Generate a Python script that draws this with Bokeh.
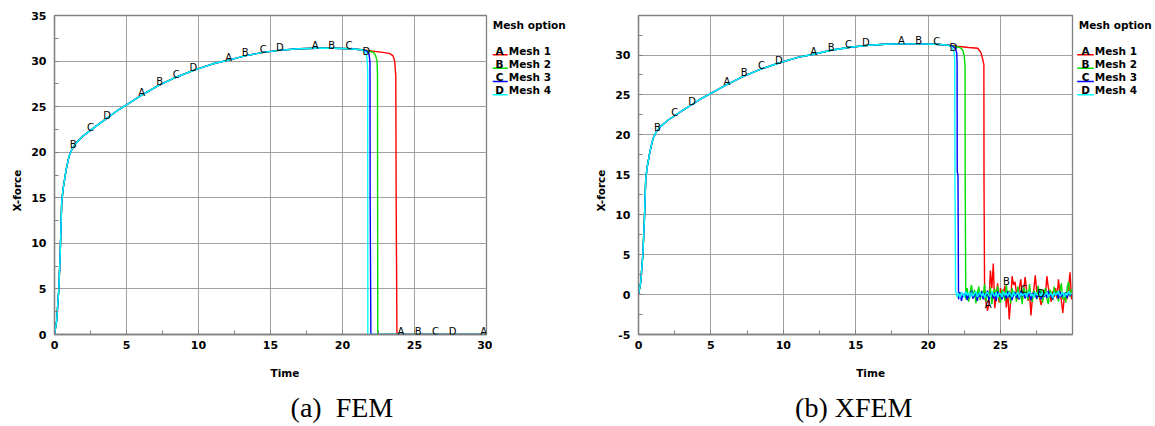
import numpy as np
from bokeh.plotting import figure
from bokeh.models import LabelSet, ColumnDataSource, SingleIntervalTicker, Range1d, PrintfTickFormatter
from bokeh.core.properties import value
from bokeh.layouts import row, column
from bokeh.embed import file_html
from bokeh.resources import INLINE

# ---------------- data ----------------
MESH_NAMES = ["Mesh 1", "Mesh 2", "Mesh 3", "Mesh 4"]
MESH_LETTERS = ["A", "B", "C", "D"]
MESH_COLORS = ["#ff0000", "#00dd00", "#0000ff", "#00ffff"]
LEGEND_TITLE = "Mesh option"
X_LABEL = "Time"
Y_LABEL = "X-force"
CAPTIONS = ["(a)\u00a0 FEM", "(b) XFEM"]

# common loading branch (all meshes)
RISE_T = [0, 0.15, 0.3, 0.4, 0.5, 0.6, 0.8, 1.0, 1.2, 1.5, 2.0, 2.5, 3.0, 3.7, 4.3, 5.0,
          6.0, 7.2, 8.4, 9.7, 11.0, 12.1, 13.3, 14.5, 15.7, 17.0, 18.2, 19.4, 20.5, 21.3]
RISE_F = [0, 1.5, 5.0, 9.0, 14.5, 16.0, 18.0, 19.5, 20.3, 21.0, 21.8, 22.4, 23.0, 23.8, 24.5, 25.2,
          26.2, 27.3, 28.2, 29.0, 29.7, 30.1, 30.6, 30.95, 31.2, 31.35, 31.4, 31.4, 31.35, 31.25]

# FEM: failure branches
FEM_M1_T = [22.0, 22.8, 23.25, 23.5, 23.62, 23.7, 23.73, 23.78, 30.0]
FEM_M1_F = [31.1, 30.95, 30.85, 30.6, 30.0, 28.4, 14.0, 0.0, 0.0]
FEM_M2_T = [21.8, 22.15, 22.3, 22.4, 22.43, 22.45, 30.0]
FEM_M2_F = [31.1, 30.95, 30.6, 30.0, 28.5, 0.0, 0.0]
FEM_M3_T = [21.7, 21.85, 21.91, 21.92, 21.97, 30.0]
FEM_M3_F = [31.1, 30.7, 29.8, 15.2, 0.0, 0.0]
FEM_M4_T = [21.6, 21.7, 21.75, 21.76, 30.0]
FEM_M4_F = [31.0, 30.4, 29.0, 0.0, 0.0]

# XFEM: failure branches before the oscillating part
XFEM_M1_T = [22.0, 22.8, 23.43, 23.65, 23.75, 23.85, 23.86]
XFEM_M1_F = [31.1, 30.95, 30.85, 30.3, 29.6, 28.8, 14.0]
XFEM_M2_T = [21.8, 22.2, 22.4, 22.5, 22.55, 22.56]
XFEM_M2_F = [31.1, 30.95, 30.6, 29.8, 28.5, 14.4]
XFEM_M3_T = [21.7, 21.9, 21.98, 22.0, 22.01, 22.06]
XFEM_M3_F = [31.1, 30.8, 30.2, 29.0, 15.4, 15.0]
XFEM_M4_T = [21.6, 21.78, 21.84, 21.85]
XFEM_M4_F = [31.05, 30.5, 29.5, 15.0]

# XFEM: post-failure oscillation, sampled every 0.1 from the start time
NOISE_STEP = 0.1
XFEM_M1_NOISE_T0 = 23.9
XFEM_M1_NOISE = [-0.3, -1.0, -2.0, -1.2, 3.0, 0.8, 3.9, -1.7, -0.2, 1.4,
                 -1.0, 0.8, -0.4, 0.3, 1.1, -1.6, 0.4, -3.1, -0.8, 2.3,
                 1.2, 1.6, 0.2, -0.6, 0.9, 1.9, -0.3, 0.6, 2.2, 0.5,
                 -0.8, 0.4, -2.6, -0.5, 0.7, 2.4, 0.3, 1.0, -0.4, -1.3,
                 -0.6, 0.6, -0.2, 2.3, 0.9, 0.1, -0.9, 0.4, -0.3, 0.8,
                 -0.5, 1.9, 0.2, -0.7, -2.3, -0.4, 0.3, -0.6, 0.9, 2.8,
                 -0.6]
XFEM_M2_NOISE_T0 = 22.6
XFEM_M2_NOISE = [-0.6, 0.8, -0.9, 0.3, 1.2, -0.4, 0.6, -1.1, 0.2, 1.0,
                 -0.7, 0.5, -0.2, 1.3, -0.9, 0.4, -0.5, 0.9, -1.2, 0.3,
                 0.7, -0.6, 1.1, -0.3, -1.0, 0.6, 0.2, -0.8, 1.2, -0.4,
                 0.5, -1.1, 0.8, -0.2, 0.4, -0.9, 1.0, -0.5, 0.3, -1.2,
                 0.9, -0.1, 0.6, -0.7, 1.3, -0.3, -0.9, 0.5, 0.1, -0.6,
                 1.1, -0.4, 0.7, -1.0, 0.2, 0.8, -0.5, -1.2, 0.6, 0.3,
                 -0.7, 1.0, -0.2, 0.5, -0.9, 0.4, 1.4, -0.6, 0.2, -1.0,
                 0.9, 1.6, -0.3, 0.7]
XFEM_M3_NOISE_T0 = 22.1
XFEM_M3_NOISE = [-0.6, 0.3, -0.8, 0.1, -0.3, 0.4, -0.7, 0.0, -0.4, 0.5,
                 -0.5, -0.1, 0.3, -0.8, 0.2, -0.3, 0.4, -0.6, 0.1, -0.2,
                 0.5, -0.7, 0.0, 0.3, -0.5, 0.2, -0.8, 0.4, -0.2, 0.1,
                 -0.6, 0.3, -0.1, -0.5, 0.4, -0.3, 0.2, -0.7, 0.1, 0.3,
                 -0.4, 0.0, -0.6, 0.5, -0.2, 0.2, -0.5, 0.1, -0.3, 0.4,
                 -0.7, 0.2, -0.1, 0.3, -0.5, 0.0, 0.4, -0.6, 0.2, -0.3,
                 0.1, -0.4, 0.5, -0.2, 0.0, -0.6, 0.3, -0.1, 0.2, -0.5,
                 0.4, -0.3, 0.1, -0.2, 0.3, -0.4, 0.2, 0.0, -0.1]
XFEM_M4_NOISE_T0 = 21.9
XFEM_M4_NOISE = [0.4, -0.3, 0.2, -0.4, 0.3, 0.0, -0.3, 0.4, -0.1, 0.2,
                 -0.4, 0.3, -0.2, 0.1, 0.4, -0.3, 0.0, 0.3, -0.2, 0.2,
                 -0.4, 0.1, 0.3, -0.1, -0.3, 0.4, 0.0, -0.2, 0.3, -0.4,
                 0.2, 0.1, -0.3, 0.4, -0.1, 0.2, -0.2, 0.3, 0.0, -0.3,
                 0.4, -0.2, 0.1, 0.3, -0.4, 0.2, -0.1, 0.0, 0.3, -0.3,
                 0.2, 0.4, -0.2, 0.1, -0.4, 0.3, 0.0, -0.1, 0.2, -0.3,
                 0.4, -0.2, 0.1, 0.3, -0.3, 0.0, 0.2, -0.4, 0.3, -0.1,
                 0.1, 0.4, -0.2, 0.0, 0.3, -0.3, 0.2, -0.1, 0.4, 0.0,
                 0.2]

# curve identification letters (time positions)
FEM_MARK_A = [6.05, 12.1, 18.1, 24.05, 29.8]
FEM_MARK_B = [1.3, 7.3, 13.25, 19.25, 25.25]
FEM_MARK_C = [2.5, 8.45, 14.5, 20.45, 26.45]
FEM_MARK_D = [3.65, 9.65, 15.65, 21.65, 27.65]
XFEM_MARK_A = [6.1, 12.1, 18.15, 24.15]
XFEM_MARK_B = [1.3, 7.3, 13.3, 19.35, 25.4]
XFEM_MARK_C = [2.5, 8.5, 14.5, 20.6, 26.6]
XFEM_MARK_D = [3.7, 9.7, 15.7, 21.75, 27.8]

# ---------------- assemble ----------------
def full_curve(tail_t, tail_f, noise_t0=None, noise=None):
    t = list(RISE_T) + list(tail_t)
    f = list(RISE_F) + list(tail_f)
    if noise is not None:
        t += [round(noise_t0 + NOISE_STEP * i, 3) for i in range(len(noise))]
        f += list(noise)
    return np.array(t), np.array(f)

FEM_CURVES = [full_curve(FEM_M1_T, FEM_M1_F), full_curve(FEM_M2_T, FEM_M2_F),
              full_curve(FEM_M3_T, FEM_M3_F), full_curve(FEM_M4_T, FEM_M4_F)]
XFEM_CURVES = [full_curve(XFEM_M1_T, XFEM_M1_F, XFEM_M1_NOISE_T0, XFEM_M1_NOISE),
               full_curve(XFEM_M2_T, XFEM_M2_F, XFEM_M2_NOISE_T0, XFEM_M2_NOISE),
               full_curve(XFEM_M3_T, XFEM_M3_F, XFEM_M3_NOISE_T0, XFEM_M3_NOISE),
               full_curve(XFEM_M4_T, XFEM_M4_F, XFEM_M4_NOISE_T0, XFEM_M4_NOISE)]
FEM_MARKS = [FEM_MARK_A, FEM_MARK_B, FEM_MARK_C, FEM_MARK_D]
XFEM_MARKS = [XFEM_MARK_A, XFEM_MARK_B, XFEM_MARK_C, XFEM_MARK_D]

FONT = "DejaVu Sans"
SERIF = "Liberation Serif"
AX_COLOR = "#808080"
TOP_H = 356      # height of the chart row
BOT_H = 70       # height of the caption strip
FRAME_TOP = 15   # page y of the chart frames
FRAME_BOT = 334


def chart(width, b_left, b_right, x_end, y_start, y_end, curves, marks):
    p = figure(width=width, height=TOP_H, x_range=Range1d(0, x_end), y_range=Range1d(y_start, y_end),
               output_backend="svg", toolbar_location=None,
               min_border_left=b_left, min_border_right=b_right,
               min_border_top=FRAME_TOP, min_border_bottom=TOP_H - FRAME_BOT,
               background_fill_color="white", border_fill_color="white")
    p.xaxis.ticker = SingleIntervalTicker(interval=5, num_minor_ticks=2)
    p.yaxis.ticker = SingleIntervalTicker(interval=5, num_minor_ticks=2)
    for ax in (p.xaxis[0], p.yaxis[0]):
        ax.formatter = PrintfTickFormatter(format="%d")
        ax.major_tick_in = 4
        ax.major_tick_out = 0
        ax.minor_tick_in = 4
        ax.minor_tick_out = 0
        ax.major_tick_line_color = AX_COLOR
        ax.minor_tick_line_color = AX_COLOR
        ax.axis_line_color = AX_COLOR
        ax.axis_line_width = 1.3
        ax.major_label_text_font = FONT
        ax.major_label_text_font_style = "bold"
        ax.major_label_text_font_size = "11px"
        ax.major_label_text_color = "black"
    p.xaxis.major_label_standoff = 6
    p.yaxis.major_label_standoff = 8
    p.grid.grid_line_color = "#a0a0a0"
    p.grid.grid_line_width = 1
    p.outline_line_color = AX_COLOR
    p.outline_line_width = 1.3

    for (t, f), c in zip(curves, MESH_COLORS):
        p.line(t, f, line_color=c, line_width=1.4)

    mx, my, mt = [], [], []
    for (t, f), m, letter in zip(curves, marks, MESH_LETTERS):
        for tm in m:
            mx.append(tm)
            my.append(float(np.interp(tm, t, f)))
            mt.append(letter)
    src = ColumnDataSource(dict(x=mx, y=my, text=mt))
    p.add_layout(LabelSet(x="x", y="y", text="text", source=src, text_align="center",
                          text_baseline="middle", y_offset=3, text_font=value(FONT),
                          text_font_size=value("10px"), text_color="black"))
    return p


def side(width):
    # strip beside a chart; its frame is aligned with the chart frame, units are page pixels
    f = figure(width=width, height=TOP_H, x_range=Range1d(0, width),
               y_range=Range1d(TOP_H - FRAME_BOT, TOP_H - FRAME_TOP),
               x_axis_type=None, y_axis_type=None, toolbar_location=None, output_backend="svg",
               min_border_left=0, min_border_right=0,
               min_border_top=FRAME_TOP, min_border_bottom=TOP_H - FRAME_BOT,
               outline_line_color=None, background_fill_color="white", border_fill_color="white")
    f.grid.visible = False
    return f


def strip(width, height):
    f = figure(width=width, height=height, x_range=Range1d(0, width), y_range=Range1d(0, height),
               x_axis_type=None, y_axis_type=None, toolbar_location=None, output_backend="svg",
               min_border=0, outline_line_color=None,
               background_fill_color="white", border_fill_color="white")
    f.grid.visible = False
    return f


def add_text(f, x, y, text, size, bold=True, align="left", angle=0.0, font=FONT):
    f.text(x=[x], y=[y], text=[text], text_font=value(font), text_font_size=value(size),
           text_font_style="bold" if bold else "normal", text_align=align, text_baseline="middle",
           angle=angle, text_color="black")


def add_legend(f, x0):
    # x0: left end of the swatch lines (local px); row positions given as page y
    add_text(f, x0 + 1.6, TOP_H - 24, LEGEND_TITLE, "10.5px")
    for i, (letter, name, c) in enumerate(zip(MESH_LETTERS, MESH_NAMES, MESH_COLORS)):
        yc = 50 + i * 13.33
        f.line([max(x0, 0), x0 + 16.6], [TOP_H - yc - 4.3] * 2, line_color=c, line_width=1.5)
        add_text(f, x0 + 8.3, TOP_H - yc, letter, "10.5px", align="center")
        add_text(f, x0 + 17.6, TOP_H - yc, name, "10.5px")


# left strip: y label of chart (a)
side0 = side(26)
add_text(side0, 16, TOP_H - 190, Y_LABEL, "10.5px", align="center", angle=np.pi / 2)

# chart (a): frame x 54..486, y 15..334
p1 = chart(466, 28, 6, 30, 0, 35, FEM_CURVES, FEM_MARKS)

# strip between: legend of (a) and y label of (b)
side1 = side(118)
add_legend(side1, 490.7 - 492)
add_text(side1, 600 - 492, TOP_H - 190, Y_LABEL, "10.5px", align="center", angle=np.pi / 2)

# chart (b): frame x 638..1072
p2 = chart(464, 28, 2, 29.97, -5, 34.95, XFEM_CURVES, XFEM_MARKS)

# right strip: legend of (b)
side2 = side(81)
add_legend(side2, 1076.7 - 1074)

# bottom strip: x labels and captions (units: page px measured up from the window bottom)
cap = strip(1155, BOT_H)
add_text(cap, 270, 426 - 372.3, X_LABEL, "10.5px")
add_text(cap, 855.7, 426 - 372.3, X_LABEL, "10.5px")
add_text(cap, 341.4, 426 - 407.3, CAPTIONS[0], "28px", bold=False, align="center", font=SERIF)
add_text(cap, 853.3, 426 - 407.3, CAPTIONS[1], "28px", bold=False, align="center", font=SERIF)

layout = column(row(side0, p1, side1, p2, side2), cap)
open("out.html", "w").write(file_html(layout, INLINE))
